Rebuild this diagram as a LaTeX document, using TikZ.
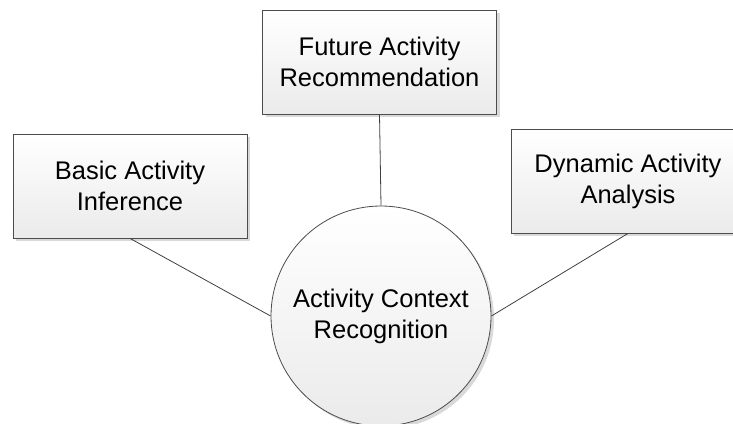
\documentclass[tikz,border=0pt]{standalone}
\usepackage{fontspec}
\setmainfont{Liberation Sans}
\usetikzlibrary{shadows}

\tikzset{
  taskbox/.style={draw=black!70,line width=0.8pt,top color=white,bottom color=black!8,
    minimum width=234pt,minimum height=104pt,align=center,
    drop shadow={shadow xshift=3pt,shadow yshift=-3pt,fill=black!15,opacity=1},
    font=\fontsize{25.5}{31}\selectfont},
  corecircle/.style={taskbox,circle,minimum width=0pt,minimum height=0pt,
    minimum size=220pt,inner sep=0pt},
  link/.style={draw=black!75,line width=0.8pt}
}

\begin{document}
\begin{tikzpicture}[x=1pt,y=-1pt]
  % Frame
  \useasboundingbox (0,0) rectangle (733,423);
  \clip (0,0) rectangle (733,423);

  % Boxes
  \node[taskbox] (basic) at (130,186) {Basic Activity\\Inference};
  \node[taskbox] (future) at (379.5,62) {Future Activity\\Recommendation};
  \node[taskbox] (dynamic) at (628,181) {Dynamic Activity\\Analysis};

  % Centre
  \node[corecircle] (context) at (381,316) {Activity Context\\Recognition};

  % Links
  \draw[link] (basic.south) -- (context.west);
  \draw[link] (future.south) -- (context.north);
  \draw[link] (dynamic.south) -- (context.east);

\end{tikzpicture}
\end{document}
